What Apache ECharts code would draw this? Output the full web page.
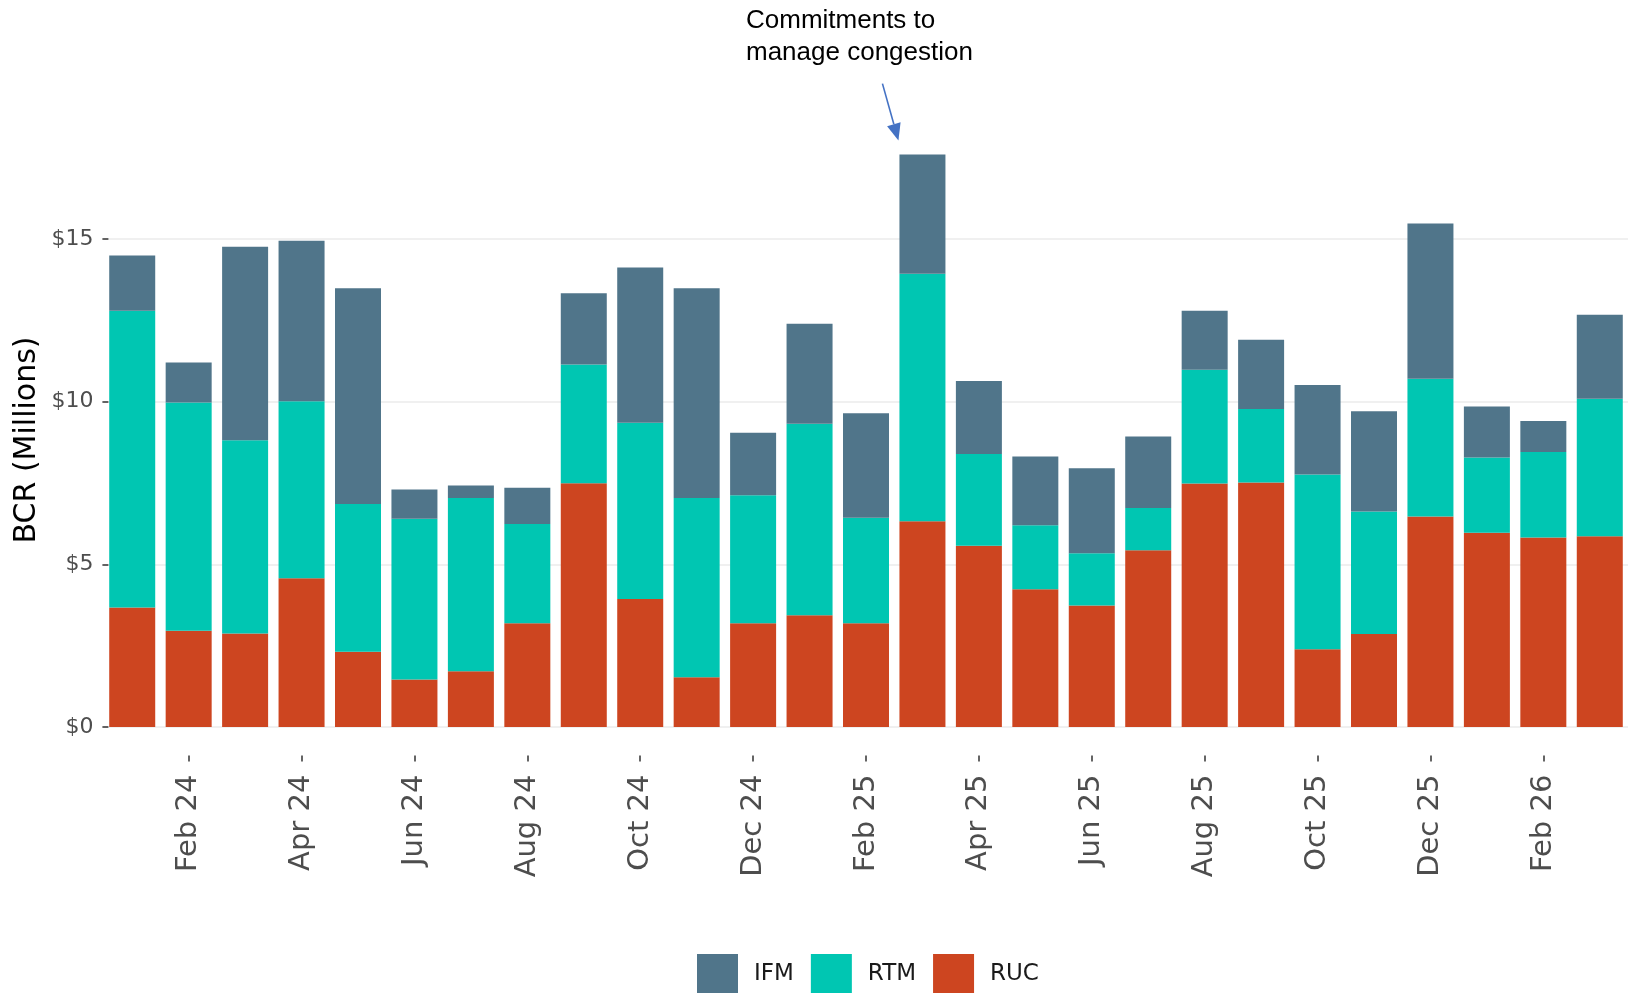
<!DOCTYPE html>
<html>
<head>
<meta charset="utf-8">
<script src="https://cdn.jsdelivr.net/npm/echarts@6/dist/echarts.min.js"></script>
<style>
  html, body { margin: 0; padding: 0; background: #ffffff; }
  #chart { width: 1628px; height: 993px; }
</style>
</head>
<body>
<div id="chart"></div>
<script>
// ---- data (values in $ millions) ----
const categories = ['Jan 24','Feb 24','Mar 24','Apr 24','May 24','Jun 24','Jul 24','Aug 24','Sep 24','Oct 24','Nov 24','Dec 24',
                    'Jan 25','Feb 25','Mar 25','Apr 25','May 25','Jun 25','Jul 25','Aug 25','Sep 25','Oct 25','Nov 25','Dec 25',
                    'Jan 26','Feb 26','Mar 26'];
const rucValues = [3.67, 2.96, 2.87, 4.57, 2.31, 1.46, 1.71, 3.19, 7.49, 3.93, 1.53, 3.19, 3.43, 3.19, 6.32, 5.57, 4.23, 3.73, 5.43, 7.48, 7.51, 2.39, 2.86, 6.47, 5.97, 5.82, 5.86];
const rtmValues = [9.12, 7.01, 5.94, 5.44, 4.54, 4.94, 5.33, 3.05, 3.65, 5.42, 5.51, 3.93, 5.89, 3.24, 7.61, 2.82, 1.97, 1.61, 1.30, 3.50, 2.26, 5.37, 3.76, 4.23, 2.31, 2.63, 4.23];
const ifmValues = [1.70, 1.23, 5.95, 4.93, 6.63, 0.90, 0.38, 1.11, 2.19, 4.77, 6.44, 1.92, 3.07, 3.21, 3.66, 2.24, 2.11, 2.61, 2.20, 1.81, 2.13, 2.75, 3.08, 4.77, 1.57, 0.95, 2.58];
const yTickValues = [0, 5, 10, 15];
const legendNames = ['IFM', 'RTM', 'RUC'];
const yAxisTitle = 'BCR (Millions)';
const annotationText = 'Commitments to\nmanage congestion';
const annotatedMonth = 'Mar 25';

const colorIFM = '#50758a';
const colorRTM = '#00c6b2';
const colorRUC = '#cd4520';

(function () {
const chart = echarts.init(document.getElementById('chart'), null, { renderer: 'canvas' });

const axisFont = 'DejaVu Sans';

chart.setOption({
  animation: false,
  backgroundColor: '#ffffff',
  grid: { left: 104, top: 125, width: 1530, height: 630.6, containLabel: false },
  legend: {
    data: legendNames,
    left: 697,
    top: 954,
    padding: 0,
    itemWidth: 41,
    itemHeight: 41,
    itemGap: 17,
    icon: 'rect',
    selectedMode: false,
    textStyle: { fontFamily: axisFont, fontSize: 23, color: '#1a1a1a', padding: [0, 0, 0, 11] }
  },
  xAxis: {
    type: 'category',
    data: categories,
    axisLine: { show: false, onZero: false },
    axisTick: {
      show: true, alignWithLabel: true, length: 6,
      interval: (i) => i % 2 === 1,
      lineStyle: { color: '#333333', width: 1.5 }
    },
    axisLabel: {
      interval: (i) => i % 2 === 1,
      rotate: 90,
      margin: 19,
      fontFamily: axisFont,
      fontSize: 29,
      color: '#4d4d4d'
    },
    splitLine: { show: false }
  },
  yAxis: {
    type: 'value',
    min: -0.88,
    max: 18.5,
    interval: 5,
    offset: -4.4,
    axisLine: { show: false },
    axisTick: {
      show: true, length: 6, customValues: yTickValues,
      lineStyle: { color: '#333333', width: 1.5 }
    },
    axisLabel: {
      customValues: yTickValues,
      showMinLabel: true,
      showMaxLabel: true,
      margin: 15,
      fontFamily: axisFont,
      fontSize: 22,
      color: '#4d4d4d',
      formatter: (v) => '$' + v
    },
    splitLine: { show: false }
  },
  series: [
    {
      name: 'gridlines', type: 'line', data: [], silent: true, z: 0,
      markLine: {
        z: 0, silent: true, symbol: 'none', animation: false,
        label: { show: false },
        lineStyle: { color: '#ebebeb', width: 1.5, type: 'solid' },
        emphasis: { disabled: true },
        data: yTickValues.map((v) => ({ yAxis: v }))
      }
    },
    { name: 'RUC', type: 'bar', stack: 'bcr', data: rucValues, barWidth: 46, z: 2, itemStyle: { color: colorRUC } },
    { name: 'RTM', type: 'bar', stack: 'bcr', data: rtmValues, barWidth: 46, z: 2, itemStyle: { color: colorRTM } },
    { name: 'IFM', type: 'bar', stack: 'bcr', data: ifmValues, barWidth: 46, z: 2, itemStyle: { color: colorIFM } }
  ]
});

// annotation anchored on the annotated bar
const idx = categories.indexOf(annotatedMonth);
const total = rucValues[idx] + rtmValues[idx] + ifmValues[idx];
const barTop = chart.convertToPixel({ xAxisIndex: 0, yAxisIndex: 0 }, [idx, total]);
const tip = [barTop[0] - 24, barTop[1] - 14];
const tail = [barTop[0] - 40, barTop[1] - 71];
const dx = tip[0] - tail[0], dy = tip[1] - tail[1];
const len = Math.sqrt(dx * dx + dy * dy);
const ux = dx / len, uy = dy / len;
const headLen = 17, headHalf = 7;
const base = [tip[0] - ux * headLen, tip[1] - uy * headLen];
const px = -uy * headHalf, py = ux * headHalf;

chart.setOption({
  graphic: [
    {
      type: 'text', left: 746, top: 5,
      style: { text: annotationText, fontFamily: 'Liberation Sans, Arial', fontSize: 26, lineHeight: 31.6, fill: '#000000' }
    },
    {
      type: 'line', silent: true,
      shape: { x1: tail[0], y1: tail[1], x2: base[0], y2: base[1] },
      style: { stroke: '#4472c4', lineWidth: 1.6 }
    },
    {
      type: 'polygon', silent: true,
      shape: { points: [[tip[0], tip[1]], [base[0] + px, base[1] + py], [base[0] - px, base[1] - py]] },
      style: { fill: '#4472c4' }
    },
    {
      type: 'text', x: 27, y: 440, rotation: Math.PI / 2,
      style: { text: yAxisTitle, fontFamily: axisFont, fontSize: 30, fill: '#000000', align: 'center', verticalAlign: 'middle' }
    }
  ]
});
})();
</script>
</body>
</html>
